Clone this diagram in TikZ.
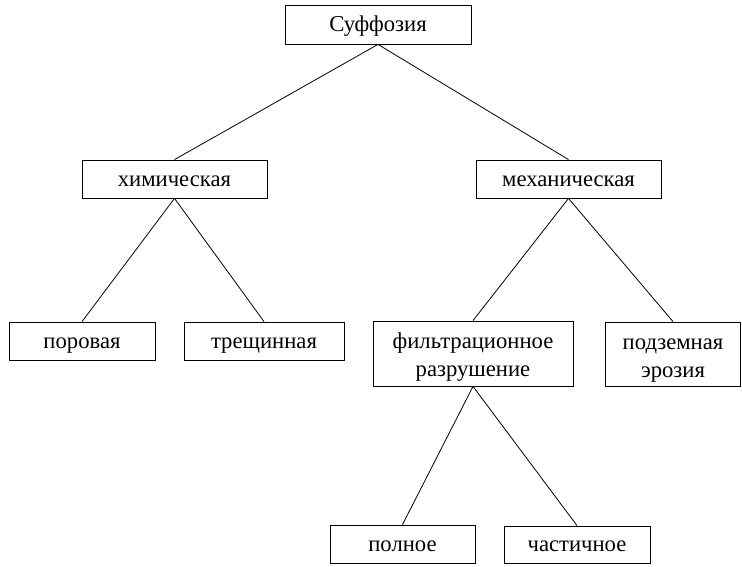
\documentclass[tikz,border=0pt]{standalone}
\usepackage{fontspec}
\setmainfont{Liberation Serif}
\usepackage{tikz}

\begin{document}
\begin{tikzpicture}[x=0.75pt, y=-0.75pt,
    box/.style={draw, line width=0.6pt, inner sep=0pt, align=center,
        minimum height=28.5pt, font=\fontsize{17}{21}\selectfont,
        text height=12pt, text depth=1pt},
    twoline/.style={box, text height=34.5pt, text depth=0pt},
    link/.style={line width=0.6pt}]
        \useasboundingbox (0,0) rectangle (742,567);

        % Top level
        \node[box, minimum width=139.5pt, minimum height=29.25pt] (suff) at (378,24.5) {Суффозия};

        % Second level
        \node[box, minimum width=138.75pt] (chem) at (174.5,179) {химическая};
        \node[box, minimum width=138.75pt] (mech) at (568.5,179) {механическая};

        % Third level
        \node[box, minimum width=109.5pt] (por) at (82,341) {поровая};
        \node[box, minimum width=120pt] (tresh) at (264,341) {трещинная};
        \node[twoline, minimum width=150pt, minimum height=48.75pt] (filt) at (473,353.5) {фильтрационное\\разрушение};
        \node[twoline, minimum width=101.25pt, minimum height=48pt] (podz) at (673,354) {подземная\\эрозия};

        % Fourth level
        \node[box, minimum width=108.75pt] (poln) at (402.5,544) {полное};
        \node[box, minimum width=109.5pt, minimum height=27.75pt] (chast) at (577,544.5) {частичное};

        % Links
        \draw[link] (suff.south) -- (chem.north);
        \draw[link] (suff.south) -- (mech.north);
        \draw[link] (chem.south) -- (por.north);
        \draw[link] (chem.south) -- (tresh.north);
        \draw[link] (mech.south) -- (filt.north);
        \draw[link] (mech.south) -- (podz.north);
        \draw[link] (filt.south) -- (poln.north);
        \draw[link] (filt.south) -- (chast.north);
    \end{tikzpicture}
\end{document}
